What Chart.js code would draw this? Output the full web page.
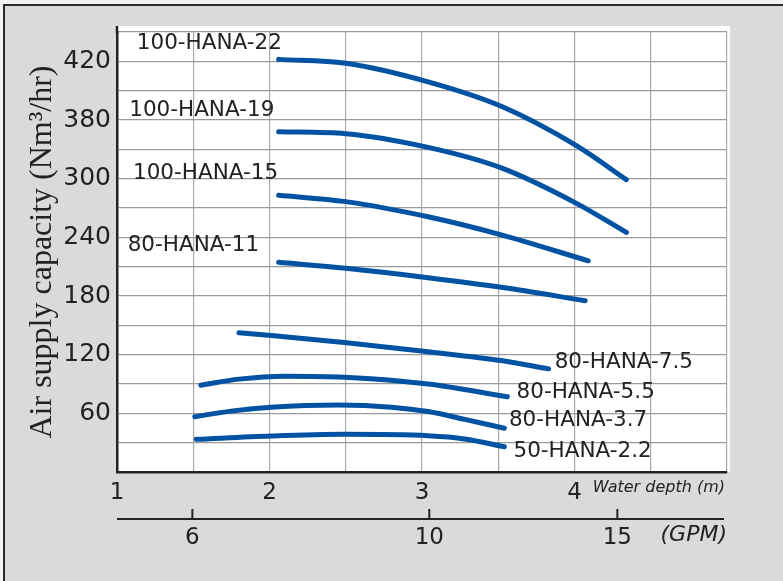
<!DOCTYPE html>
<html>
<head>
<meta charset="utf-8">
<script src="https://cdn.jsdelivr.net/npm/chart.js@4"></script>
<style>
  html, body { margin: 0; padding: 0; background: #f2f2f2; }
  canvas { display: block; }
</style>
</head>
<body>
<canvas id="myChart" width="783" height="581"></canvas>
<script>
// water depth (m) on x, air supply (Nm3/hr, as plotted on the grid) on y
var depthTicks = [1, 2, 3, 4];
var capTickValues = [60, 120, 180, 240, 300, 360, 420];
var capTickLabels = ['60', '120', '180', '240', '300', '380', '420'];
var gpmTicks = [6, 10, 15];

var models = ['100-HANA-22', '100-HANA-19', '100-HANA-15', '80-HANA-11',
              '80-HANA-7.5', '80-HANA-5.5', '80-HANA-3.7', '50-HANA-2.2'];

var depth22 = [2.06, 2.50, 3.04, 3.52, 4.01, 4.34];
var cap22   = [422, 418, 399, 374, 334, 299];
var depth19 = [2.06, 2.50, 3.04, 3.52, 4.01, 4.34];
var cap19   = [348, 346, 332, 311, 275, 245];
var depth15 = [2.06, 2.50, 3.04, 3.52, 4.09];
var cap15   = [283, 276.5, 261, 242.5, 216];
var depth11 = [2.06, 2.50, 3.04, 3.52, 4.07];
var cap11   = [214.5, 208.3, 198.7, 188.9, 175.2];
var depth75 = [1.80, 2.49, 3.04, 3.52, 3.83];
var cap75   = [142.5, 132.5, 123, 114, 105.5];
var depth55 = [1.55, 1.80, 2.10, 2.49, 3.04, 3.56];
var cap55   = [88.7, 95, 98, 97, 90, 77];
var depth37 = [1.51, 1.76, 2.01, 2.45, 2.80, 3.04, 3.28, 3.54];
var cap37   = [56.6, 62.5, 66.2, 68.5, 66.3, 61.8, 53.8, 44.7];
var depth22b = [1.52, 2.01, 2.49, 3.04, 3.28, 3.54];
var cap22b   = [33.4, 36.8, 38.5, 37, 33.8, 25.9];

var seriesX = [depth22, depth19, depth15, depth11, depth75, depth55, depth37, depth22b];
var seriesY = [cap22, cap19, cap15, cap11, cap75, cap55, cap37, cap22b];

// where each model name sits (water depth, capacity)
var labelPos = [[1.13, 438], [1.08, 370], [1.105, 305], [1.07, 232],
                [3.87, 112], [3.62, 81], [3.57, 53], [3.60, 21]];

var blue = '#0052a3';
var ink = '#222';
var sans = 'DejaVu Sans';

var datasets = models.map(function (name, i) {
  return {
    label: name,
    data: seriesX[i].map(function (d, j) { return { x: d, y: seriesY[i][j] }; }),
    borderColor: blue,
    borderWidth: 5,
    borderCapStyle: 'round',
    pointRadius: 0,
    cubicInterpolationMode: 'monotone',
    fill: false
  };
});

var decor = {
  id: 'decor',
  beforeDraw: function (chart) {
    var c = chart.ctx, a = chart.chartArea;
    c.save();
    c.fillStyle = '#f2f2f2';
    c.fillRect(0, 0, chart.width, chart.height);
    c.fillStyle = '#d9dadc';
    c.fillRect(4, 5, chart.width - 4, chart.height - 5);
    c.strokeStyle = '#2a2a2a';
    c.lineWidth = 2;
    c.beginPath();
    c.moveTo(4, chart.height); c.lineTo(4, 5); c.lineTo(chart.width, 5);
    c.stroke();
    c.fillStyle = '#fff';
    c.fillRect(a.left, a.top - 6, a.right - a.left + 3, a.bottom - a.top + 6);
    c.restore();
  },
  afterDraw: function (chart) {
    var c = chart.ctx, a = chart.chartArea;
    var xs = chart.scales.x, ys = chart.scales.y, gs = chart.scales.gpm;
    c.save();
    // y axis line runs a little above the grid
    c.strokeStyle = ink;
    c.lineWidth = 2.5;
    c.beginPath();
    c.moveTo(a.left, a.top - 6); c.lineTo(a.left, a.top + 2);
    c.stroke();
    // GPM axis line with upward ticks
    c.lineWidth = 2;
    c.beginPath();
    c.moveTo(a.left, gs.top); c.lineTo(a.right - 3, gs.top);
    gpmTicks.forEach(function (v) {
      var px = gs.getPixelForValue(v);
      c.moveTo(px, gs.top - 10); c.lineTo(px, gs.top);
    });
    c.stroke();
    c.fillStyle = ink;
    c.textAlign = 'right';
    c.textBaseline = 'middle';
    c.font = 'italic 16px "' + sans + '"';
    c.fillText('Water depth (m)', a.right - 2, xs.top + 16);
    c.font = 'italic 22px "' + sans + '"';
    c.fillText('(GPM)', a.right, gs.top + 16);
    // model names
    c.textAlign = 'left';
    c.font = '21.5px "' + sans + '"';
    models.forEach(function (name, i) {
      c.fillText(name, xs.getPixelForValue(labelPos[i][0]), ys.getPixelForValue(labelPos[i][1]));
    });
    c.restore();
  }
};

var ctx = document.getElementById('myChart');
var myChart = new Chart(ctx, {
  type: 'line',
  data: { datasets: datasets },
  options: {
    responsive: false,
    animation: false,
    layout: { padding: { left: 0, top: 32, right: 56, bottom: 22 } },
    plugins: { legend: { display: false }, tooltip: { enabled: false } },
    scales: {
      x: {
        type: 'linear', position: 'bottom', weight: 0,
        min: 1, max: 5,
        afterFit: function (s) { s.height = 47; },
        grid: { color: '#a9a9a9', lineWidth: 1.2, drawTicks: false },
        border: { color: ink, width: 2.5 },
        ticks: {
          stepSize: 0.5, autoSkip: false, maxRotation: 0, padding: 7,
          color: ink, font: { family: sans, size: 23 },
          callback: function (v) { return depthTicks.indexOf(v) >= 0 ? String(v) : ''; }
        }
      },
      gpm: {
        type: 'logarithmic', position: 'bottom', weight: 1,
        min: 5.1, max: 19,
        afterFit: function (s) { s.height = 40; },
        afterBuildTicks: function (s) { s.ticks = gpmTicks.map(function (v) { return { value: v }; }); },
        grid: { display: false, drawTicks: false },
        border: { display: false },
        ticks: {
          autoSkip: false, maxRotation: 0, padding: 5,
          color: ink, font: { family: sans, size: 23 },
          callback: function (v) { return String(v); }
        }
      },
      y: {
        type: 'linear', min: 0, max: 450,
        afterFit: function (s) { s.width = 117; },
        grid: { color: '#9a9a9a', lineWidth: 1.2, drawTicks: false },
        border: { color: ink, width: 2.5 },
        ticks: {
          stepSize: 30, autoSkip: false, padding: 6,
          color: ink, font: { family: sans, size: 25 },
          callback: function (v) {
            var i = capTickValues.indexOf(v);
            return i >= 0 ? capTickLabels[i] : '';
          }
        },
        title: {
          display: true, text: 'Air supply capacity (Nm³/hr)',
          color: ink, font: { family: 'Liberation Serif', size: 32 },
          padding: { top: 23, bottom: 0 }
        }
      }
    }
  },
  plugins: [decor]
});
</script>
</body>
</html>
